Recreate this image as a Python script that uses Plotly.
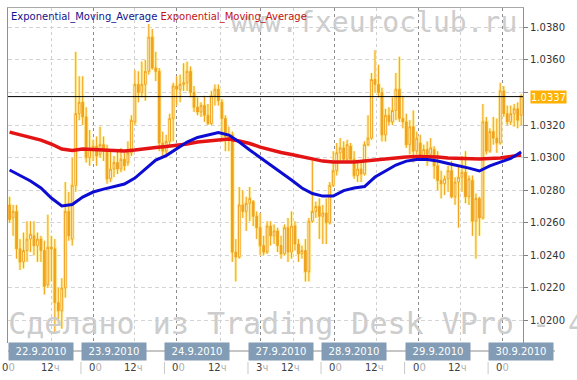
import math
import plotly.graph_objects as go

# ---------------- data ----------------
days = ["22.9.2010", "23.9.2010", "24.9.2010", "27.9.2010", "28.9.2010", "29.9.2010", "30.9.2010"]
day_bars = [21, 24, 24, 21, 24, 24, 10]          # hourly bars per day visible
day_first_hour = [3, 0, 0, 3, 0, 0, 0]           # hour of first visible bar
day_start_label = ["00", "00", "00", "3ч", "00", "00", "00"]

opens = [1.0271, 1.0263, 1.0267, 1.0244, 1.0236, 1.0243, 1.0250, 1.0252, 1.0246, 1.0250,
         1.0243, 1.0222, 1.0245, 1.0244, 1.0211, 1.0206, 1.0220, 1.0267, 1.0250, 1.0283,
         1.0327, 1.0334, 1.0325, 1.0300, 1.0305, 1.0307, 1.0302, 1.0308, 1.0304, 1.0287,
         1.0293, 1.0297, 1.0293, 1.0299, 1.0297, 1.0303, 1.0322, 1.0345, 1.0340, 1.0345,
         1.0353, 1.0374, 1.0355, 1.0353, 1.0309, 1.0304, 1.0310, 1.0324, 1.0344, 1.0342,
         1.0345, 1.0346, 1.0353, 1.0340, 1.0331, 1.0328, 1.0332, 1.0326, 1.0321, 1.0338,
         1.0342, 1.0334, 1.0324, 1.0312, 1.0314, 1.0242, 1.0239, 1.0271, 1.0267, 1.0272,
         1.0273, 1.0264, 1.0257, 1.0246, 1.0242, 1.0258, 1.0252, 1.0255, 1.0246, 1.0241,
         1.0257, 1.0242, 1.0258, 1.0247, 1.0241, 1.0243, 1.0230, 1.0261, 1.0267, 1.0270,
         1.0264, 1.0266, 1.0260, 1.0283, 1.0292, 1.0303, 1.0306, 1.0299, 1.0307, 1.0299,
         1.0289, 1.0293, 1.0290, 1.0308, 1.0312, 1.0348, 1.0345, 1.0340, 1.0314, 1.0326,
         1.0322, 1.0329, 1.0342, 1.0324, 1.0322, 1.0308, 1.0319, 1.0304, 1.0309, 1.0301,
         1.0305, 1.0302, 1.0305, 1.0295, 1.0286, 1.0284, 1.0287, 1.0292, 1.0276, 1.0285,
         1.0288, 1.0291, 1.0276, 1.0286, 1.0261, 1.0275, 1.0263, 1.0322, 1.0304, 1.0316,
         1.0312, 1.0309, 1.0341, 1.0327, 1.0322, 1.0327, 1.0330, 1.0326]
highs = [1.0276, 1.0271, 1.0271, 1.0250, 1.0254, 1.0261, 1.0261, 1.0261, 1.0254, 1.0252,
         1.0249, 1.0265, 1.0252, 1.0250, 1.0220, 1.0226, 1.0285, 1.0279, 1.0300, 1.0365,
         1.0350, 1.0350, 1.0331, 1.0317, 1.0311, 1.0313, 1.0319, 1.0313, 1.0308, 1.0304,
         1.0301, 1.0304, 1.0306, 1.0303, 1.0310, 1.0326, 1.0354, 1.0353, 1.0359, 1.0360,
         1.0382, 1.0379, 1.0365, 1.0355, 1.0316, 1.0314, 1.0327, 1.0346, 1.0350, 1.0351,
         1.0358, 1.0359, 1.0356, 1.0344, 1.0337, 1.0334, 1.0338, 1.0333, 1.0341, 1.0345,
         1.0345, 1.0336, 1.0326, 1.0319, 1.0316, 1.0250, 1.0282, 1.0280, 1.0276, 1.0282,
         1.0274, 1.0267, 1.0266, 1.0252, 1.0261, 1.0261, 1.0259, 1.0257, 1.0252, 1.0259,
         1.0263, 1.0267, 1.0261, 1.0250, 1.0246, 1.0250, 1.0263, 1.0298, 1.0273, 1.0275,
         1.0271, 1.0275, 1.0285, 1.0304, 1.0309, 1.0312, 1.0310, 1.0311, 1.0309, 1.0304,
         1.0298, 1.0297, 1.0310, 1.0326, 1.0352, 1.0366, 1.0357, 1.0343, 1.0330, 1.0331,
         1.0337, 1.0352, 1.0362, 1.0338, 1.0327, 1.0323, 1.0329, 1.0316, 1.0314, 1.0308,
         1.0310, 1.0312, 1.0307, 1.0304, 1.0292, 1.0289, 1.0295, 1.0298, 1.0288, 1.0295,
         1.0301, 1.0304, 1.0289, 1.0289, 1.0278, 1.0276, 1.0333, 1.0325, 1.0318, 1.0325,
         1.0324, 1.0346, 1.0344, 1.0332, 1.0332, 1.0333, 1.0334, 1.0339]
lows = [1.0260, 1.0252, 1.0238, 1.0231, 1.0232, 1.0236, 1.0242, 1.0240, 1.0236, 1.0236,
        1.0216, 1.0220, 1.0224, 1.0192, 1.0201, 1.0195, 1.0214, 1.0249, 1.0246, 1.0279,
        1.0323, 1.0320, 1.0297, 1.0295, 1.0298, 1.0295, 1.0300, 1.0298, 1.0284, 1.0285,
        1.0288, 1.0290, 1.0291, 1.0292, 1.0295, 1.0301, 1.0320, 1.0334, 1.0337, 1.0335,
        1.0351, 1.0354, 1.0347, 1.0304, 1.0300, 1.0300, 1.0308, 1.0310, 1.0332, 1.0334,
        1.0341, 1.0341, 1.0337, 1.0328, 1.0326, 1.0325, 1.0322, 1.0320, 1.0320, 1.0332,
        1.0332, 1.0310, 1.0304, 1.0304, 1.0236, 1.0224, 1.0238, 1.0263, 1.0255, 1.0261,
        1.0258, 1.0250, 1.0240, 1.0240, 1.0241, 1.0246, 1.0247, 1.0242, 1.0238, 1.0240,
        1.0236, 1.0238, 1.0243, 1.0236, 1.0238, 1.0224, 1.0224, 1.0260, 1.0263, 1.0250,
        1.0247, 1.0247, 1.0259, 1.0282, 1.0289, 1.0298, 1.0297, 1.0298, 1.0297, 1.0287,
        1.0285, 1.0285, 1.0289, 1.0307, 1.0311, 1.0340, 1.0337, 1.0310, 1.0310, 1.0320,
        1.0320, 1.0323, 1.0322, 1.0318, 1.0306, 1.0302, 1.0297, 1.0302, 1.0298, 1.0298,
        1.0295, 1.0298, 1.0287, 1.0280, 1.0275, 1.0277, 1.0279, 1.0275, 1.0271, 1.0257,
        1.0279, 1.0272, 1.0271, 1.0252, 1.0238, 1.0252, 1.0262, 1.0302, 1.0303, 1.0308,
        1.0303, 1.0308, 1.0325, 1.0320, 1.0320, 1.0319, 1.0318, 1.0320]
closes = [1.0262, 1.0267, 1.0244, 1.0236, 1.0243, 1.0250, 1.0253, 1.0246, 1.0250, 1.0243,
          1.0221, 1.0245, 1.0244, 1.0211, 1.0206, 1.0220, 1.0267, 1.0252, 1.0283, 1.0327,
          1.0334, 1.0325, 1.0300, 1.0305, 1.0307, 1.0301, 1.0308, 1.0304, 1.0287, 1.0293,
          1.0297, 1.0293, 1.0299, 1.0295, 1.0303, 1.0323, 1.0345, 1.0340, 1.0345, 1.0353,
          1.0374, 1.0355, 1.0353, 1.0309, 1.0304, 1.0310, 1.0324, 1.0344, 1.0342, 1.0345,
          1.0346, 1.0353, 1.0340, 1.0331, 1.0328, 1.0332, 1.0326, 1.0321, 1.0338, 1.0342,
          1.0335, 1.0324, 1.0313, 1.0314, 1.0242, 1.0239, 1.0271, 1.0267, 1.0272, 1.0275,
          1.0264, 1.0257, 1.0246, 1.0242, 1.0258, 1.0252, 1.0255, 1.0246, 1.0241, 1.0257,
          1.0242, 1.0258, 1.0247, 1.0241, 1.0243, 1.0230, 1.0261, 1.0267, 1.0270, 1.0264,
          1.0266, 1.0260, 1.0283, 1.0292, 1.0303, 1.0306, 1.0299, 1.0308, 1.0299, 1.0289,
          1.0293, 1.0290, 1.0308, 1.0312, 1.0348, 1.0345, 1.0340, 1.0314, 1.0326, 1.0322,
          1.0329, 1.0342, 1.0324, 1.0322, 1.0308, 1.0319, 1.0304, 1.0312, 1.0301, 1.0305,
          1.0302, 1.0306, 1.0295, 1.0286, 1.0284, 1.0287, 1.0292, 1.0276, 1.0285, 1.0288,
          1.0291, 1.0276, 1.0287, 1.0261, 1.0275, 1.0263, 1.0322, 1.0304, 1.0316, 1.0312,
          1.0309, 1.0341, 1.0327, 1.0322, 1.0327, 1.0330, 1.0323, 1.03375]

# moving averages read every 3rd bar
ma_step = 3
ema_blue = [1.02924, 1.02890, 1.02857, 1.02814, 1.02752, 1.02703, 1.02712, 1.02758, 1.02789, 1.02807,
            1.02823, 1.02838, 1.02875, 1.02930, 1.02985, 1.03013, 1.03057, 1.03096, 1.03124, 1.03139,
            1.03154, 1.03139, 1.03096, 1.03047, 1.03001, 1.02955, 1.02912, 1.02863, 1.02814, 1.02780,
            1.02764, 1.02764, 1.02798, 1.02814, 1.02823, 1.02881, 1.02918, 1.02955, 1.02979, 1.02989,
            1.02989, 1.02979, 1.02964, 1.02952, 1.02936, 1.02918, 1.02949, 1.02973, 1.02995, 1.03035]
ema_red = [1.03157, 1.03142, 1.03127, 1.03108, 1.03084, 1.03053, 1.03044, 1.03053, 1.03050, 1.03047,
           1.03047, 1.03041, 1.03047, 1.03056, 1.03062, 1.03068, 1.03075, 1.03084, 1.03096, 1.03102,
           1.03111, 1.03114, 1.03102, 1.03087, 1.03065, 1.03047, 1.03032, 1.03019, 1.03004, 1.02992,
           1.02979, 1.02973, 1.02973, 1.02973, 1.02979, 1.02985, 1.02995, 1.03001, 1.03004, 1.03007,
           1.03007, 1.03004, 1.02998, 1.02995, 1.02992, 1.02992, 1.02995, 1.02998, 1.03007, 1.03016]

y_ticks = [1.0200, 1.0220, 1.0240, 1.0260, 1.0280, 1.0300, 1.0320, 1.0340, 1.0360, 1.0380]
last_price = closes[-1]
legend_name = "Exponential_Moving_Average"
watermark_top = "www.fxeuroclub.ru"
watermark_bottom = "Сделано из Trading Desk VPro - 4.0"

# gridline positions (bar index units)
grid_major = [24, 48, 72, 93.5, 117.5, 141.5]
grid_minor = [12, 36, 60.5, 81.5, 105.5, 129.5]

# ---------------- figure ----------------
FONT = "DejaVu Sans"
ORANGE = "#f0a21e"
HALO = "#fff0a8"
X_MIN, X_MAX = -0.46, 147.53
n = len(opens)
xs = list(range(n))
ma_x = list(range(0, n, ma_step))

starts = []
s = 0
for cnt in day_bars:
    starts.append(s)
    s += cnt

fig = go.Figure()

# watermarks (below the data)
fig.add_trace(go.Scatter(x=[104.7], y=[1.03815], mode="text", text=[watermark_top],
                         textposition="middle center", cliponaxis=False, hoverinfo="skip",
                         textfont=dict(family="DejaVu Sans Mono", size=28, color="#cdcdcd")))
fig.add_trace(go.Scatter(x=[-0.4], y=[1.01965], mode="text", text=[watermark_bottom],
                         textposition="middle right", cliponaxis=False, hoverinfo="skip",
                         textfont=dict(family="DejaVu Sans Mono", size=30, color="#cdcdcd")))

# candle halo
fig.add_trace(go.Candlestick(x=xs, open=opens, high=highs, low=lows, close=closes,
                             whiskerwidth=0, hoverinfo="skip",
                             increasing=dict(line=dict(color=HALO, width=3), fillcolor=HALO),
                             decreasing=dict(line=dict(color=HALO, width=3), fillcolor=HALO)))
# candles
fig.add_trace(go.Candlestick(x=xs, open=opens, high=highs, low=lows, close=closes,
                             whiskerwidth=0,
                             increasing=dict(line=dict(color=ORANGE, width=1), fillcolor="#ffffff"),
                             decreasing=dict(line=dict(color=ORANGE, width=1), fillcolor=ORANGE)))

fig.add_trace(go.Scatter(x=ma_x, y=ema_red, mode="lines", name=legend_name,
                         line=dict(color="#e41414", width=3.5)))
fig.add_trace(go.Scatter(x=ma_x, y=ema_blue, mode="lines", name=legend_name,
                         line=dict(color="#0c0cd2", width=3)))

ann = []
# legend text
ann.append(dict(xref="paper", yref="paper", x=0, y=1, xanchor="left", yanchor="top",
                xshift=1, yshift=-1, showarrow=False,
                text=f"<span style='color:#14148c'>{legend_name}</span> "
                     f"<span style='color:#c41414'>{legend_name}</span>",
                font=dict(family=FONT, size=10)))

# current price label
price_txt = f"{math.floor(last_price * 10000) / 10000:.4f}"
ann.append(dict(xref="paper", yref="y", x=1, y=last_price, xanchor="left", yanchor="middle",
                xshift=7, showarrow=False, text=price_txt, bgcolor="#ffb000",
                font=dict(family=FONT, size=10, color="#ffffff"), height=12, borderpad=0))

shapes = []
# date row connector
shapes.append(dict(type="line", xref="paper", yref="paper", x0=0, x1=1.062,
                   y0=-0.0239, y1=-0.0239, line=dict(color="#8c8c8c", width=1)))
# current price line
shapes.append(dict(type="line", xref="paper", yref="y", x0=0, x1=1,
                   y0=last_price, y1=last_price, line=dict(color="#000000", width=1)))

for d, (lab, st) in enumerate(zip(days, starts)):
    xl = max(st - 0.5, X_MIN + 0.01)
    ann.append(dict(xref="x", yref="paper", x=xl, y=-0.0254, xanchor="left",
                    yanchor="middle", showarrow=False, text=lab, bgcolor="#819cb4",
                    width=62, height=15, borderpad=1,
                    font=dict(family=FONT, size=10, color="#ffffff")))
    first = day_start_label[d]
    if first.endswith("ч"):
        t0 = f"{first[:-1]}<span style='color:#b0b0b0'>ч</span>"
    else:
        t0 = f"{first[0]}<span style='color:#b0b0b0'>{first[1]}</span>"
    ann.append(dict(xref="x", yref="paper", x=xl, y=-0.0746, xanchor="left",
                    yanchor="middle", showarrow=False, text=t0,
                    xshift=-8 if d == 0 else 6,
                    font=dict(family=FONT, size=10, color="#404040")))
    i12 = st + 12 - day_first_hour[d]
    if 12 - day_first_hour[d] < day_bars[d]:
        ann.append(dict(xref="x", yref="paper", x=i12, y=-0.0746, xanchor="left",
                        yanchor="middle", showarrow=False, xshift=-2,
                        text="12<span style='color:#b0b0b0'>ч</span>",
                        font=dict(family=FONT, size=10, color="#404040")))
    if d > 0:
        shapes.append(dict(type="line", xref="x", yref="paper", x0=st - 0.5, x1=st - 0.5,
                           y0=-0.0567, y1=-0.0925, line=dict(color="#c8c8c8", width=1)))

ticktext = ["" if abs(v - 1.0340) < 1e-9 else f"{v:.4f}" for v in y_ticks]

fig.update_layout(
    width=577, height=380,
    margin=dict(l=8, r=54, t=8, b=37),
    paper_bgcolor="#ffffff", plot_bgcolor="#ffffff",
    showlegend=False, boxmode="overlay",
    font=dict(family=FONT, size=10, color="#333333"),
    annotations=ann, shapes=shapes,
    xaxis=dict(range=[X_MIN, X_MAX], side="top", tickmode="array", tickvals=grid_major,
               showticklabels=False, ticks="", showgrid=True, gridcolor="#8c8c8c",
               griddash="3px,3px", gridwidth=1, zeroline=False,
               showline=True, linecolor="#a8a8a8", linewidth=1,
               rangeslider=dict(visible=False),
               minor=dict(tickmode="array", tickvals=grid_minor, showgrid=True,
                          gridcolor="#d0d0d0", griddash="3px,3px", ticks="")),
    yaxis=dict(range=[1.01862, 1.03919], side="right", tickmode="array", tickvals=y_ticks,
               ticktext=ticktext, ticks="outside", ticklen=4, tickcolor="#808080",
               tickfont=dict(family=FONT, size=10, color="#333333"),
               showgrid=True, gridcolor="#d4d4d4", griddash="4px,3px", zeroline=False,
               showline=True, mirror=True, linecolor="#909090", linewidth=1),
)

fig.write_html("out.html", config={"displayModeBar": False},
               post_script="document.body.style.margin='0px';document.body.style.overflow='hidden';")
